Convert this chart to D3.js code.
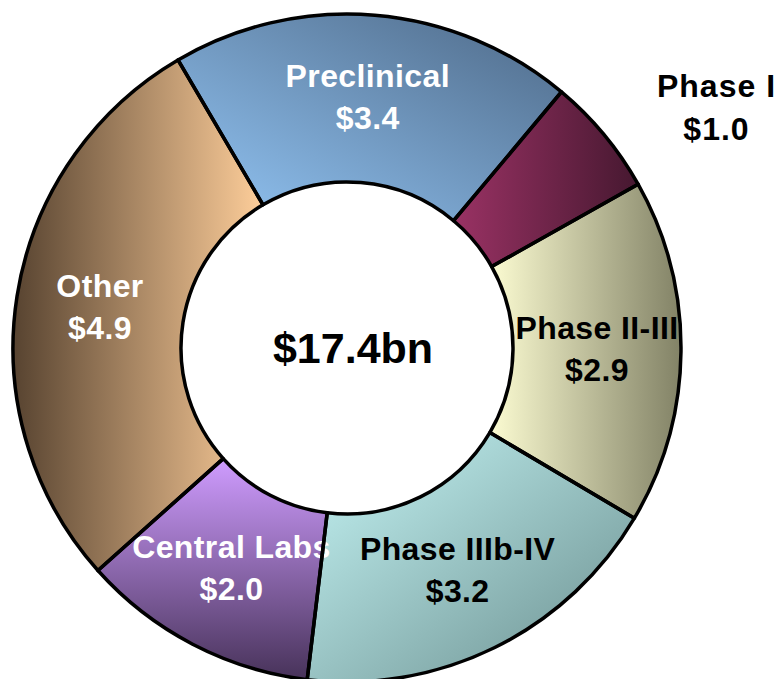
<!DOCTYPE html>
<html lang="en">
<head>
    <meta charset="utf-8">
    <title>Spending by phase</title>
    <script src="https://d3js.org/d3.v7.min.js"></script>
    <style>
        body { margin: 0; background: #fff; }
        text { font-family: "Liberation Sans", Arial, sans-serif; font-weight: bold; }
    </style>
</head>
<body>
<div id="chart"></div>
<script>
    // data (US$ bn)
    const categories = ["Preclinical", "Phase I", "Phase II-III", "Phase IIIb-IV", "Central Labs", "Other"];
    const values = [3.4, 1.0, 2.9, 3.2, 2.0, 4.9];
    const valueLabels = ["$3.4", "$1.0", "$2.9", "$3.2", "$2.0", "$4.9"];
    const totalLabel = "$17.4bn";

    // styling per slice: gradient stops [light, dark] and direction
    const gradStops = [
        ["#93c6f6", "#4d6886"],
        ["#9a3264", "#461830"],
        ["#fcfcd2", "#828266"],
        ["#c6f6f6", "#6a8e8e"],
        ["#cf9cff", "#473259"],
        ["#fece9a", "#574330"]
    ];
    // x1,y1 -> x2,y2 (light -> dark) in bounding box units
    const gradDir = [
        [0, 1, 1, 0],
        [0, 0, 1, 0],
        [0, 0, 1, 0],
        [0, 0, 1, 1],
        [0, 0, 0, 1],
        [1, 0, 0, 0]
    ];
    const textColors = ["#fff", "#000", "#000", "#000", "#fff", "#fff"];

    const width = 784, height = 679;
    const cx = 347, cy = 348;
    const innerR = 166, outerR = 334, labelR = 250;

    const svg = d3.select("#chart").append("svg")
        .attr("width", width)
        .attr("height", height);

    const defs = svg.append("defs");
    gradStops.forEach(function (s, i) {
        const d = gradDir[i];
        const g = defs.append("linearGradient")
            .attr("id", "grad" + i)
            .attr("x1", d[0]).attr("y1", d[1])
            .attr("x2", d[2]).attr("y2", d[3]);
        g.append("stop").attr("offset", "0%").attr("stop-color", s[0]);
        g.append("stop").attr("offset", "100%").attr("stop-color", s[1]);
    });

    defs.append("clipPath").attr("id", "ringClip")
        .append("circle").attr("cx", 0).attr("cy", 0).attr("r", outerR);

    const data = categories.map(function (c, i) {
        return { name: c, value: values[i], label: valueLabels[i], i: i };
    });

    const pie = d3.pie()
        .sort(null)
        .value(function (d) { return d.value; })
        .startAngle(-30.4 * Math.PI / 180)
        .endAngle((360 - 30.4) * Math.PI / 180);

    const arcs = pie(data);

    const arc = d3.arc().innerRadius(innerR).outerRadius(outerR);
    const labelArc = d3.arc().innerRadius(labelR).outerRadius(labelR);
    const outsideArc = d3.arc().innerRadius(440).outerRadius(440);

    const g = svg.append("g").attr("transform", `translate(${cx},${cy})`);

    // slice fills
    g.selectAll("path.slice")
        .data(arcs)
        .enter()
        .append("path")
        .attr("class", "slice")
        .attr("d", arc)
        .attr("fill", function (d) { return "url(#grad" + d.data.i + ")"; });

    // labels inside the ring (Phase I sits outside)
    const inside = arcs.filter(function (d) { return d.data.name !== "Phase I"; });
    const lbl = g.append("g").attr("clip-path", "url(#ringClip)")
        .selectAll("text")
        .data(inside)
        .enter()
        .append("text")
        .attr("text-anchor", "middle")
        .attr("font-size", "32px")
        .attr("letter-spacing", "0.4px")
        .attr("fill", function (d) { return textColors[d.data.i]; })
        .attr("transform", function (d) {
            const c = labelArc.centroid(d);
            return `translate(${c[0]},${c[1]})`;
        });
    lbl.append("tspan").attr("x", 0).attr("y", -12).text(function (d) { return d.data.name; });
    lbl.append("tspan").attr("x", 0).attr("y", 30).text(function (d) { return d.data.label; });

    // outside label for Phase I
    const p1 = arcs.filter(function (d) { return d.data.name === "Phase I"; });
    const out = g.selectAll("text.outside")
        .data(p1)
        .enter()
        .append("text")
        .attr("class", "outside")
        .attr("text-anchor", "middle")
        .attr("font-size", "32px")
        .attr("letter-spacing", "1px")
        .attr("fill", function (d) { return textColors[d.data.i]; })
        .attr("transform", function (d) {
            const c = outsideArc.centroid(d);
            return `translate(${c[0] + 31},${c[1] + 51})`;
        });
    out.append("tspan").attr("x", 0).attr("y", -21).text(function (d) { return d.data.name; });
    out.append("tspan").attr("x", 0).attr("y", 22).text(function (d) { return d.data.label; });

    // slice outlines on top
    g.selectAll("path.edge")
        .data(arcs)
        .enter()
        .append("path")
        .attr("class", "edge")
        .attr("d", arc)
        .attr("fill", "none")
        .attr("stroke", "#000")
        .attr("stroke-width", 3.5)
        .attr("stroke-linejoin", "round");

    // total in the middle
    g.append("text")
        .attr("text-anchor", "middle")
        .attr("x", 6)
        .attr("y", 15)
        .attr("font-size", "43px")
        .attr("fill", "#000")
        .text(totalLabel);
</script>
</body>
</html>
